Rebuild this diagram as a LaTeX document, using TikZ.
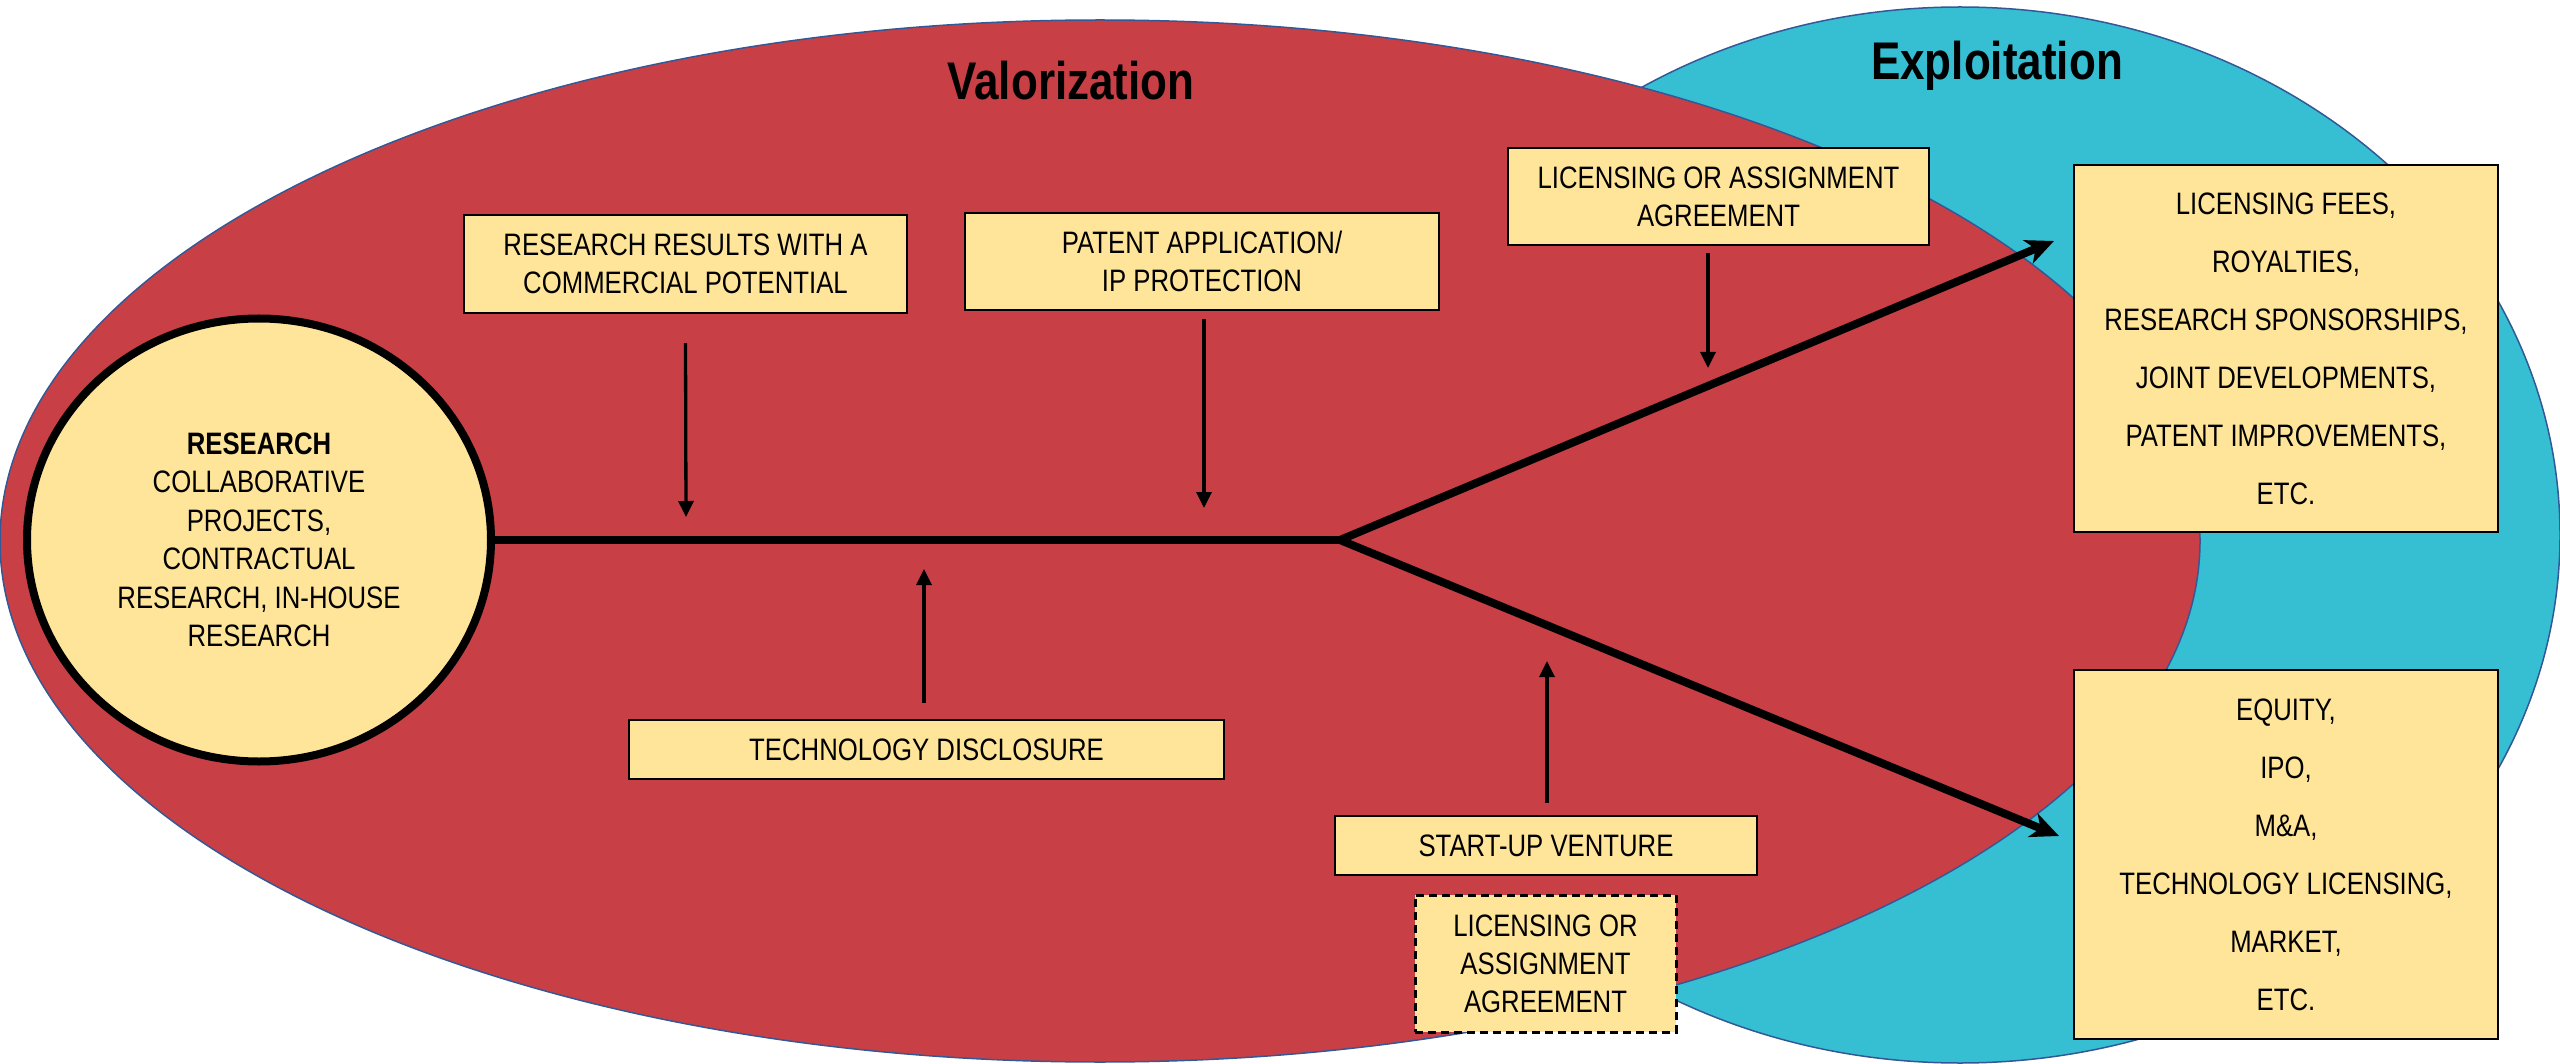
\documentclass[tikz,border=0pt]{standalone}
\usepackage{fontspec}
\setmainfont{Liberation Sans}[FakeStretch=0.83]
\usetikzlibrary{arrows.meta,shapes.geometric}
\definecolor{valred}{RGB}{200,64,70}
\definecolor{expblue}{RGB}{54,190,211}
\definecolor{boxyellow}{RGB}{255,229,153}
\definecolor{edgeblue}{RGB}{52,88,150}
\begin{document}
\begin{tikzpicture}[x=1pt,y=-1pt,
  zone/.style={draw=edgeblue,line width=1.5pt},
  box/.style={draw=black,line width=2.2pt,fill=boxyellow,inner sep=0pt,align=center,
    font=\fontsize{31}{38}\selectfont},
  tallbox/.style={box,font=\fontsize{31}{58}\selectfont},
  dashbox/.style={box,line width=3pt,dash pattern=on 8pt off 5pt},
  title/.style={font=\bfseries\fontsize{53}{60}\selectfont,anchor=base,inner sep=0pt},
  mainline/.style={line width=8pt},
  bigarrow/.style={line width=8pt,-{Stealth[length=28pt,width=25pt,inset=8pt]}},
  sarrow/.style={line width=3.3pt,-{Triangle[width=15pt,length=16pt]}}]
\useasboundingbox (0,0) rectangle (2560,1064);
% zones
\path[zone,fill=expblue] (1960,535) ellipse [x radius=600, y radius=528];
\path[zone,fill=valred] (1100,541) ellipse [x radius=1100, y radius=521];
\node[title] (val) at (1071,100) {Valorization};
\node[title] (exp) at (1997,80) {Exploitation};
% research
\node[ellipse,draw=black,line width=8pt,fill=boxyellow,inner sep=0pt,
  minimum width=464pt,minimum height=443pt,align=center,
  font=\fontsize{31}{38.5}\selectfont] (res) at (259,540)
  {\textbf{RESEARCH}\\COLLABORATIVE\\PROJECTS,\\CONTRACTUAL\\RESEARCH, IN-HOUSE\\RESEARCH};
% boxes
\node[box,minimum width=443pt,minimum height=98pt] (b1) at (685.5,264)
  {RESEARCH RESULTS WITH A\\COMMERCIAL POTENTIAL};
\node[box,minimum width=474pt,minimum height=97pt] (b2) at (1202,261.5)
  {PATENT APPLICATION/\\IP PROTECTION};
\node[box,minimum width=421pt,minimum height=97pt] (b3) at (1718.5,196.5)
  {LICENSING OR ASSIGNMENT\\AGREEMENT};
\node[box,minimum width=595pt,minimum height=59pt] (td) at (926.5,749.5)
  {TECHNOLOGY DISCLOSURE};
\node[box,minimum width=422pt,minimum height=59pt] (su) at (1546,845.5)
  {START-UP VENTURE};
\node[dashbox,minimum width=261pt,minimum height=137pt] (la) at (1545.5,963.5)
  {LICENSING OR\\ASSIGNMENT\\AGREEMENT};
\node[tallbox,minimum width=424pt,minimum height=367pt] (r1) at (2286,348.5)
  {LICENSING FEES,\\ROYALTIES,\\RESEARCH SPONSORSHIPS,\\JOINT DEVELOPMENTS,\\PATENT IMPROVEMENTS,\\ETC.};
\node[tallbox,minimum width=424pt,minimum height=369pt] (r2) at (2286,854.5)
  {EQUITY,\\IPO,\\M\&A,\\TECHNOLOGY LICENSING,\\MARKET,\\ETC.};
% main flow
\coordinate (br) at (1340,540);
\coordinate (t1) at (2054,241);
\coordinate (t2) at (2059,836);
\draw[mainline] (res.east) -- (br);
\draw[bigarrow] (br) -- (t1);
\draw[bigarrow] (br) -- (t2);
% small arrows
\coordinate (a1) at (686,517);
\coordinate (a2) at (1204,508);
\coordinate (a3) at (1708,368);
\coordinate (a4) at (924,569);
\coordinate (a5) at (1547,661);
\draw[sarrow] ([yshift=-29pt]b1.south) -- (a1);
\draw[sarrow] ([yshift=-8pt,xshift=2pt]b2.south) -- (a2);
\draw[sarrow] ([yshift=-7pt,xshift=-10.5pt]b3.south) -- (a3);
\draw[sarrow] ([yshift=16pt,xshift=-2.5pt]td.north) -- (a4);
\draw[sarrow] ([yshift=12pt,xshift=1pt]su.north) -- (a5);
\end{tikzpicture}
\end{document}
